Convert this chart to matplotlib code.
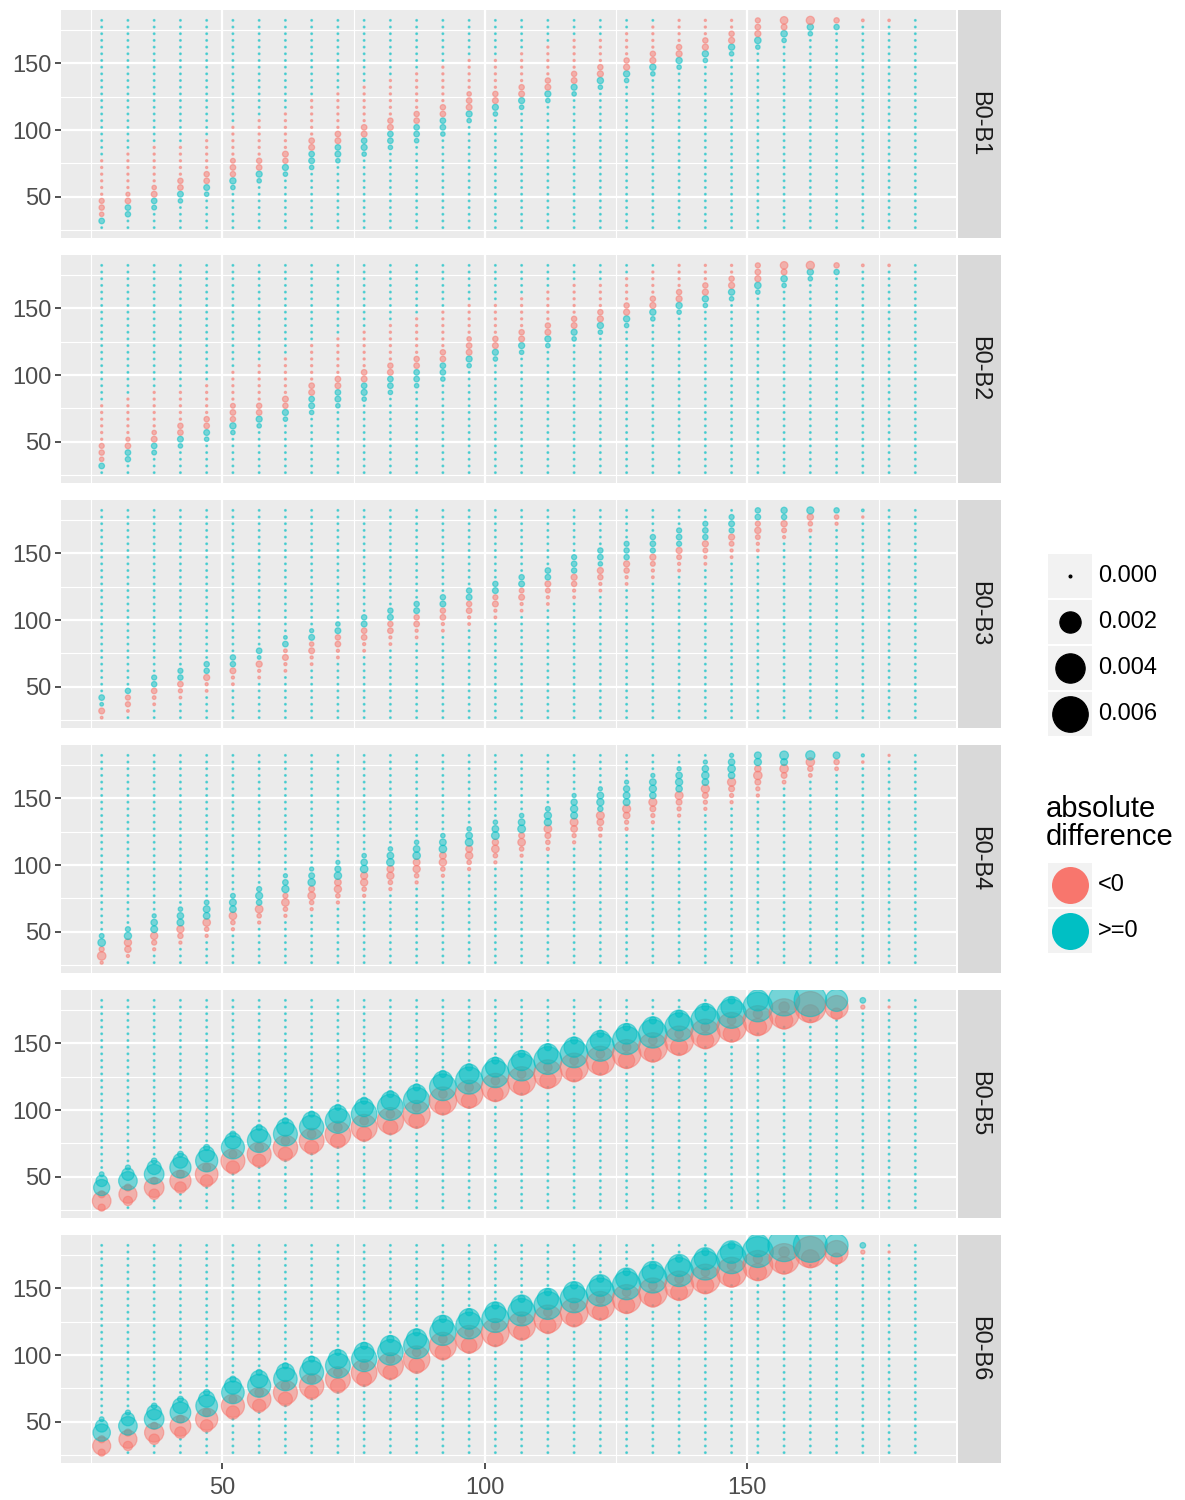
import numpy as np
import matplotlib
matplotlib.use('Agg')
import matplotlib.pyplot as plt
from matplotlib.patches import Rectangle

plt.rcParams['font.family'] = ['Liberation Sans', 'DejaVu Sans']

GRID = list(range(27, 183, 5))          # x and y grid positions
PANELS = ['B0-B1', 'B0-B2', 'B0-B3', 'B0-B4', 'B0-B5', 'B0-B6']
RED, CYAN = '#F8766D', '#00BFC4'
T = 0.01                                 # barely-negative cell

# one row per column: x, first red y, red |values| going up, first cyan y, cyan values going up
# values in units of 1e-4 (absolute difference); cells not listed are 0
B1 = [
    (27, 37, [0.4, 0.7, 0.6, T, T, T, T, T, T], 32, [0.8]),
    (32, 47, [0.8, 0.3, T, T, T, T, T, T], 37, [0.7, 0.8]),
    (37, 52, [0.9, 0.4, T, T, T, T, T, T], 42, [0.5, 0.8]),
    (42, 57, [0.8, 0.7, T, T, T, T, T], 47, [0.4, 0.9]),
    (47, 62, [0.8, 0.7, T, T, T, T, T], 52, [0.4, 0.9]),
    (52, 67, [0.7, 0.8, 0.5, T, T, T, T, T], 57, [0.4, 1.1]),
    (57, 72, [0.8, 0.7, T, T, T, T, T, T], 62, [0.4, 1.0]),
    (62, 77, [0.7, 0.9, T, T, T, T, T, T], 67, [0.4, 1.0]),
    (67, 87, [0.9, 0.8, T, T, T, T, T, T], 72, [0.4, 0.9, 0.8]),
    (72, 92, [0.9, 0.8, T, T, T, T, T, T], 77, [0.4, 0.9, 0.8]),
    (77, 97, [0.9, 0.8, T, T, T, T, T, T], 82, [0.4, 1.0, 0.8]),
    (82, 102, [0.9, 0.7, T, T, T, T, T, T], 87, [0.4, 0.8, 0.8]),
    (87, 107, [0.8, 0.7, T, T, T, T, T, T], 92, [0.4, 0.8, 0.8]),
    (92, 112, [0.8, 0.7, T, T, T, T, T, T], 97, [0.4, 0.8, 0.8]),
    (97, 117, [0.9, 0.8, 0.4, T, T, T, T, T], 107, [0.4, 1.0]),
    (102, 122, [0.9, 0.7, T, T, T, T, T], 112, [0.4, 1.0]),
    (107, 127, [0.9, 0.7, T, T, T, T, T], 117, [0.4, 1.0]),
    (112, 132, [0.9, 0.7, T, T, T, T, T], 122, [0.4, 1.0]),
    (117, 137, [0.9, 0.7, T, T, T, T, T], 127, [0.4, 1.0]),
    (122, 142, [1.0, 0.7, T, T, T, T], 132, [0.4, 1.1]),
    (127, 147, [1.0, 0.7, T, T, T, T], 137, [0.4, 1.1]),
    (132, 152, [1.0, 0.7, T, T, T, T], 142, [0.4, 1.1]),
    (137, 157, [1.0, 0.7, T, T, T, T], 147, [0.4, 1.1]),
    (142, 162, [1.0, 0.7, T, T, T], 152, [0.4, 1.1]),
    (147, 167, [1.0, 0.7, T, T], 157, [0.4, 1.1]),
    (152, 172, [1.0, 0.8, 0.6], 162, [0.4, 1.2]),
    (157, 177, [0.9, 1.8], 167, [0.4, 1.2]),
    (162, 182, [2.2], 172, [0.4, 1.1]),
    (167, 182, [0.7], 177, [0.7]),
    (172, 182, [0.05], 182, []),
    (177, 182, [0.03], 182, []),
    (182, 182, [], 182, []),
]
B2 = list(B1)
B3 = [
    (27, 27, [0.05, 0.9], 37, [0.2, 0.8]),
    (32, 32, [0.05, 0.6, 0.6], 47, [0.7]),
    (37, 37, [0.05, 0.2, 0.8], 52, [0.7, 0.6]),
    (42, 42, [0.05, 0.3, 0.8], 57, [0.7, 0.6]),
    (47, 47, [0.05, 0.1, 1.0], 62, [0.7, 0.7]),
    (52, 52, [0.05, 0.1, 0.9], 67, [0.7, 0.7]),
    (57, 57, [0.05, 0.1, 1.0], 72, [0.2, 0.8]),
    (62, 62, [0.05, 0.1, 0.9, 0.2], 82, [0.8, 0.2]),
    (67, 67, [0.05, 0.1, 0.9, 0.4], 87, [0.9, 0.3]),
    (72, 72, [0.05, 0.1, 0.8, 0.7], 92, [0.9, 0.4]),
    (77, 77, [0.05, 0.1, 0.8, 0.8], 97, [0.9, 0.7]),
    (82, 82, [0.05, 0.1, 0.8, 0.7], 102, [0.9, 0.7]),
    (87, 87, [0.05, 0.1, 0.8, 0.7], 107, [0.9, 0.7]),
    (92, 92, [0.05, 0.1, 0.8, 0.7], 112, [0.9, 0.7]),
    (97, 97, [0.05, 0.1, 0.8, 0.7], 117, [0.9, 0.7]),
    (102, 102, [0.05, 0.1, 0.9, 0.6], 122, [0.9, 0.7]),
    (107, 107, [0.05, 0.1, 0.9, 0.5], 127, [0.9, 0.7]),
    (112, 112, [0.05, 0.1, 0.5, 0.9], 132, [0.8, 0.8]),
    (117, 117, [0.05, 0.1, 0.7, 1.0], 137, [0.7, 0.8, 0.6]),
    (122, 122, [0.05, 0.1, 0.7, 1.0], 142, [0.4, 0.8, 0.7]),
    (127, 127, [0.05, 0.1, 0.7, 1.0], 147, [0.7, 0.7, 0.6]),
    (132, 132, [0.05, 0.1, 0.5, 1.0], 152, [0.6, 0.8, 0.7]),
    (137, 137, [0.05, 0.1, 0.5, 1.0], 157, [0.6, 0.8, 0.6]),
    (142, 142, [0.05, 0.1, 0.5, 1.0], 162, [0.7, 0.8, 0.6]),
    (147, 147, [0.05, 0.1, 0.5, 1.0], 167, [0.6, 0.9, 0.6]),
    (152, 152, [0.05, 0.1, 0.5, 1.1, 0.6], 177, [0.8, 0.7]),
    (157, 162, [0.1, 0.5, 1.1], 177, [0.7, 1.1]),
    (162, 167, [0.1, 0.4, 1.1], 182, [1.5]),
    (167, 172, [0.1, 0.4], 182, [0.7]),
    (172, 177, [0.02], 182, [0.05]),
    (177, 182, [], 182, []),
    (182, 182, [], 182, []),
]
B4 = [
    (27, 27, [0.1, 2.4, 0.6], 42, [1.8, 0.5]),
    (32, 32, [0.1, 1.2, 1.6], 47, [1.6, 0.6]),
    (37, 37, [0.1, 0.6, 1.6], 52, [1.4, 1.2, 0.3]),
    (42, 42, [0.1, 0.7, 1.6], 57, [1.4, 1.2, 0.4]),
    (47, 47, [0.1, 0.4, 1.8], 62, [1.3, 1.4, 0.5]),
    (52, 52, [0.1, 0.4, 1.8], 67, [1.3, 1.4, 0.5]),
    (57, 57, [0.1, 0.4, 1.9], 72, [0.8, 1.5, 0.6]),
    (62, 62, [0.1, 0.4, 1.8, 0.6], 82, [1.6, 0.8, 0.3]),
    (67, 67, [0.1, 0.4, 1.8, 0.9], 87, [1.7, 0.9, 0.3]),
    (72, 72, [0.1, 0.4, 1.6, 1.3], 92, [1.7, 1.0, 0.3]),
    (77, 77, [0.1, 0.4, 1.6, 1.5], 97, [1.8, 1.2, 0.4]),
    (82, 82, [0.1, 0.4, 1.6, 1.4], 102, [1.8, 1.3, 0.4]),
    (87, 87, [0.1, 0.4, 1.6, 1.4], 107, [1.8, 1.3, 0.4]),
    (92, 92, [0.1, 0.4, 1.7, 1.3], 112, [1.8, 1.3, 0.4]),
    (97, 97, [0.1, 0.4, 1.7, 1.3], 117, [1.9, 1.3, 0.4]),
    (102, 102, [0.1, 0.4, 1.8, 1.1], 122, [1.9, 1.3, 0.4]),
    (107, 107, [0.1, 0.4, 1.8, 0.9], 127, [1.9, 1.3, 0.4]),
    (112, 112, [0.1, 0.4, 0.9, 1.9], 132, [1.6, 1.6, 0.5]),
    (117, 117, [0.1, 0.3, 1.3, 2.0], 137, [1.4, 1.6, 1.1, 0.3]),
    (122, 122, [0.1, 0.3, 1.3, 2.0], 142, [0.7, 1.6, 1.3, 0.3]),
    (127, 127, [0.1, 0.3, 1.3, 2.1], 147, [1.4, 1.4, 1.1, 0.3]),
    (132, 132, [0.1, 0.3, 0.9, 2.1], 152, [1.2, 1.6, 1.3, 0.3]),
    (137, 137, [0.1, 0.3, 0.9, 2.1], 157, [1.2, 1.6, 1.2, 0.3]),
    (142, 142, [0.1, 0.3, 0.9, 2.2], 162, [1.3, 1.7, 1.2, 0.3]),
    (147, 147, [0.1, 0.3, 0.9, 2.2], 167, [1.2, 1.8, 1.2, 0.3]),
    (152, 152, [0.1, 0.3, 0.9, 2.4, 1.2], 177, [1.6, 1.4]),
    (157, 162, [0.2, 0.9, 2.4], 177, [1.4, 2.6]),
    (162, 167, [0.2, 0.7, 2.4], 182, [3.0]),
    (167, 172, [0.2, 0.7], 182, [1.4]),
    (172, 177, [0.03], 182, [0.1]),
    (177, 182, [T], 182, []),
    (182, 182, [], 182, []),
]
B5 = [
    (27, 27, [1.5, 15, 1.5], 42, [11, 5, 0.5]),
    (32, 32, [3, 14, 1.5], 47, [15, 6, 0.6]),
    (37, 37, [4, 17, 1.5], 52, [17, 8, 0.8]),
    (42, 42, [5, 20, 2], 57, [20, 9, 0.9]),
    (47, 47, [6, 23, 2], 62, [22, 10, 1]),
    (52, 57, [7, 26, 2], 72, [24, 11, 1]),
    (57, 62, [7, 26, 2.5], 77, [25, 12, 1]),
    (62, 67, [8, 27, 2.5], 82, [26, 13, 1]),
    (67, 72, [8, 28, 2.5], 87, [27, 14, 1]),
    (72, 77, [9, 30, 2.5], 92, [29, 14, 1]),
    (77, 82, [9, 31, 2.5], 97, [30, 15, 1.5]),
    (82, 87, [9, 32, 2.5], 102, [31, 15, 1.5]),
    (87, 92, [10, 34, 2.5], 107, [32, 16, 1.5]),
    (92, 102, [10, 35, 2.5], 117, [33, 16, 1.5]),
    (97, 107, [10, 35, 2.5], 122, [34, 17, 1.5]),
    (102, 112, [10, 36, 2.5], 127, [35, 17, 1.5]),
    (107, 117, [11, 36, 2.5], 132, [35, 18, 1.5]),
    (112, 122, [11, 37, 2.5], 137, [36, 18, 1.5]),
    (117, 127, [11, 37, 2.5], 142, [36, 18, 1.5]),
    (122, 132, [11, 38, 2.5], 147, [37, 18, 1.5]),
    (127, 137, [11, 38, 2.5], 152, [37, 19, 1.5]),
    (132, 142, [12, 39, 2.5], 157, [38, 19, 1.5]),
    (137, 147, [12, 39, 2.5], 162, [38, 19, 1.5]),
    (142, 152, [12, 40, 2.5], 167, [39, 19, 1.5]),
    (147, 157, [12, 40, 2.5], 172, [40, 20, 1.5]),
    (152, 162, [13, 41, 3], 177, [41, 20]),
    (157, 167, [13, 42, 4], 182, [46]),
    (162, 172, [14, 45], 182, [50]),
    (167, 172, [5, 24], 182, [22]),
    (172, 177, [0.3], 182, [0.8]),
    (177, 177, [T], 182, []),
    (182, 182, [], 182, []),
]
B6 = [
    (27, 27, [1.5, 14, 1.5], 42, [13, 6, 0.5]),
    (32, 32, [3, 14, 1.5], 47, [15, 7, 0.6]),
    (37, 37, [4, 16, 1.5], 52, [17, 9, 0.8]),
    (42, 42, [5, 19, 2], 57, [19, 10, 0.9]),
    (47, 47, [6, 22, 2], 62, [21, 11, 1]),
    (52, 57, [7, 24, 2], 72, [23, 12, 1]),
    (57, 62, [7, 25, 2.5], 77, [24, 13, 1]),
    (62, 67, [8, 26, 2.5], 82, [25, 14, 1]),
    (67, 72, [8, 27, 2.5], 87, [26, 15, 1]),
    (72, 77, [9, 28, 2.5], 92, [28, 16, 1]),
    (77, 82, [9, 30, 2.5], 97, [29, 17, 1.5]),
    (82, 87, [9, 31, 2.5], 102, [30, 18, 1.5]),
    (87, 92, [10, 32, 2.5], 107, [31, 18, 1.5]),
    (92, 102, [10, 33, 2.5], 117, [32, 19, 1.5]),
    (97, 107, [10, 34, 2.5], 122, [33, 19, 1.5]),
    (102, 112, [10, 35, 2.5], 127, [34, 19, 1.5]),
    (107, 117, [11, 35, 2.5], 132, [35, 20, 1.5]),
    (112, 122, [11, 36, 2.5], 137, [36, 20, 1.5]),
    (117, 127, [11, 36, 2.5], 142, [36, 20, 1.5]),
    (122, 132, [11, 37, 2.5], 147, [37, 21, 1.5]),
    (127, 137, [11, 38, 2.5], 152, [38, 21, 1.5]),
    (132, 142, [12, 38, 2.5], 157, [38, 21, 1.5]),
    (137, 147, [12, 39, 2.5], 162, [39, 22, 1.5]),
    (142, 152, [12, 40, 2.5], 167, [40, 22, 1.5]),
    (147, 157, [12, 41, 2.5], 172, [42, 23, 1.5]),
    (152, 162, [13, 42, 3], 177, [45, 24]),
    (157, 167, [13, 43, 4], 182, [50]),
    (162, 172, [14, 46], 182, [55]),
    (167, 172, [5, 24], 182, [24]),
    (172, 177, [0.3], 182, [0.8]),
    (177, 177, [T], 182, []),
    (182, 182, [], 182, []),
]
DATA = [B1, B2, B3, B4, B5, B6]

SIZE_BREAKS = [0.000, 0.002, 0.004, 0.006]
SIGN_LABELS = ['<0', '>=0']


def fill(rows):
    v = np.zeros((len(GRID), len(GRID)))
    for x, rs, rv, cs, cv in rows:
        i = GRID.index(x)
        for k, u in enumerate(rv):
            if rs + 5 * k <= GRID[-1]:
                v[i, GRID.index(rs + 5 * k)] = -u
        for k, u in enumerate(cv):
            if cs + 5 * k <= GRID[-1]:
                v[i, GRID.index(cs + 5 * k)] = u
    return v * 1e-4


LW = 0.9
def msize(val):
    d = 3 + 435 * np.sqrt(np.abs(val))            # px
    d = np.maximum(d * 0.72 - LW, 0.7)            # pt, inside the edge
    return d ** 2


W, H = 1185, 1500
fig = plt.figure(figsize=(W / 100, H / 100), dpi=100)
X, Y = np.meshgrid(GRID, GRID, indexing='ij')
lim = (27 - 7.75, 182 + 7.75)
tops = [10, 255, 500, 745, 990, 1235]
ph = 228
for k, (name, rows) in enumerate(zip(PANELS, DATA)):
    v = fill(rows).ravel()
    ax = fig.add_axes([61 / W, 1 - (tops[k] + ph) / H, (956 - 61) / W, ph / H])
    ax.set_facecolor('#EBEBEB')
    ax.set_xlim(lim); ax.set_ylim(lim)
    for t in [25, 75, 125, 175]:
        ax.axhline(t, color='white', lw=0.8, zorder=0)
        ax.axvline(t, color='white', lw=0.8, zorder=0)
    for t in [50, 100, 150]:
        ax.axhline(t, color='white', lw=1.6, zorder=0)
        ax.axvline(t, color='white', lw=1.6, zorder=0)
    cols = [RED if a < 0 else CYAN for a in v]
    rgba = matplotlib.colors.to_rgba_array(cols, alpha=0.5)
    ax.scatter(X.ravel(), Y.ravel(), s=msize(v), c=rgba, edgecolors=rgba,
               linewidths=LW, zorder=2)
    for sp in ax.spines.values():
        sp.set_visible(False)
    ax.set_yticks([50, 100, 150])
    ax.set_xticks([50, 100, 150])
    ax.tick_params(colors='#333333', labelcolor='#4D4D4D', labelsize=17,
                   length=4, width=1.2, pad=3)
    ax.tick_params(axis='x', pad=6)
    if k < 5:
        ax.tick_params(axis='x', length=0, labelbottom=False)
    sx = fig.add_axes([958 / W, 1 - (tops[k] + ph) / H, 43 / W, ph / H])
    sx.set_facecolor('#D9D9D9')
    sx.set_xticks([]); sx.set_yticks([])
    for sp in sx.spines.values():
        sp.set_visible(False)
    sx.text(0.5, 0.5, name, rotation=-90, ha='center', va='center',
            fontsize=17, color='#1A1A1A', transform=sx.transAxes)

# legends, drawn in pixel space
lg = fig.add_axes([0, 0, 1, 1])
lg.set_xlim(0, W); lg.set_ylim(H, 0); lg.axis('off')
for i, b in enumerate(SIZE_BREAKS):
    y0 = 553 + i * 46
    lg.add_patch(Rectangle((1048, y0 + 1), 44, 44, color='#F2F2F2', lw=0))
    lg.scatter([1070], [y0 + 23], s=msize(b) if b > 0 else 4, color='black',
               edgecolors='black', linewidths=LW)
    lg.text(1098, y0 + 23, f'{b:.3f}', fontsize=17, va='center', ha='left')
lg.text(1046, 795, 'absolute\ndifference', fontsize=21, va='top', ha='left',
        linespacing=1.0)
for i, (lab, c) in enumerate(zip(SIGN_LABELS, [RED, CYAN])):
    y0 = 862 + i * 46
    lg.add_patch(Rectangle((1048, y0 + 1), 44, 44, color='#F2F2F2', lw=0))
    lg.scatter([1070], [y0 + 23], s=(37 * 0.72) ** 2, color=c, edgecolors=c,
               linewidths=0)
    lg.text(1098, y0 + 23, lab, fontsize=17, va='center', ha='left')

fig.savefig('out.png', dpi=100)
